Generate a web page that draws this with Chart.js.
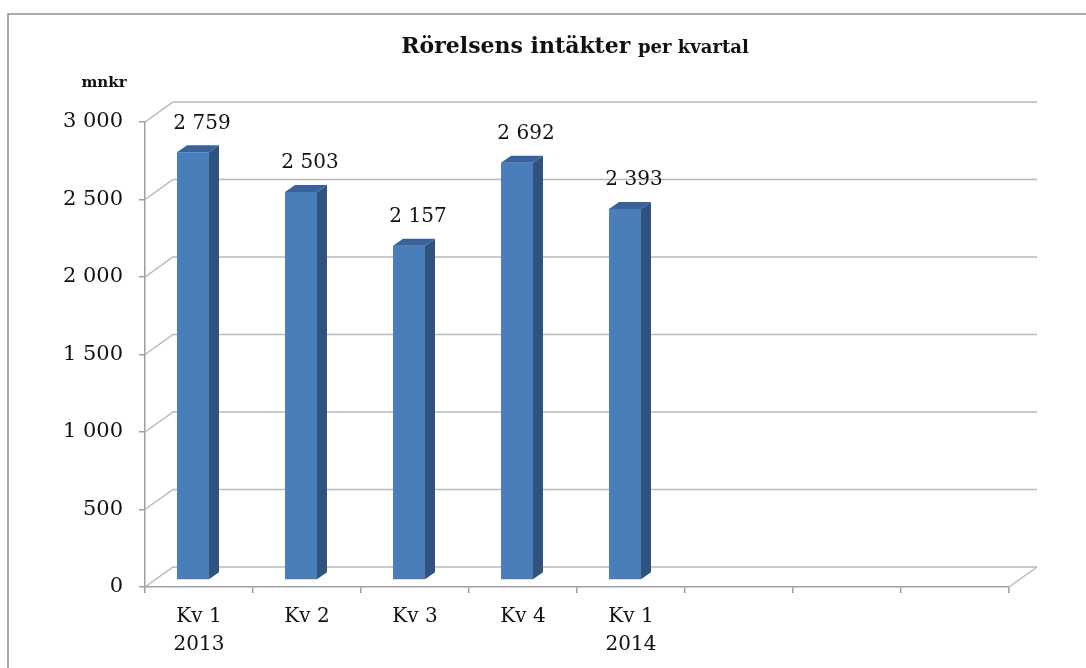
<!DOCTYPE html>
<html>
<head>
<meta charset="utf-8">
<script src="https://cdn.jsdelivr.net/npm/chart.js@4.4.1/dist/chart.umd.min.js"></script>
<style>
  html, body { margin: 0; padding: 0; background: #fff; }
  #wrap { width: 1086px; height: 668px; position: relative; }
</style>
</head>
<body>
<div id="wrap"><canvas id="chart"></canvas></div>
<script>
// data
const categories = [['Kv 1', '2013'], 'Kv 2', 'Kv 3', 'Kv 4', ['Kv 1', '2014'], '', '', ''];
const revenue = [2759, 2503, 2157, 2692, 2393, null, null, null];
const yTicks = [0, 500, 1000, 1500, 2000, 2500, 3000];

const titleMain = 'Rörelsens intäkter';
const titleSub = 'per kvartal';
const unitLabel = 'mnkr';

// 3D look
const WALL_DX = 28, WALL_DY = -20;   // back wall offset
const BAR_DX = -6, BAR_DY = -7;      // bars sit a bit behind the front plane
const SIDE_DX = 10, SIDE_DY = -7;    // bar depth
const FONT = '"DejaVu Serif", Georgia, serif';

function fmt(v) {
  return String(v).replace(/\B(?=(\d{3})+(?!\d))/g, ' ');
}

const threeD = {
  id: 'threeD',
  beforeDraw(chart) {
    const { ctx, chartArea: a, scales: { y } } = chart;
    ctx.save();
    // frame
    ctx.strokeStyle = '#8e8e8e';
    ctx.lineWidth = 1.5;
    ctx.beginPath();
    ctx.moveTo(8, 668);
    ctx.lineTo(8, 14);
    ctx.lineTo(1086, 14);
    ctx.stroke();

    // title (two sizes)
    ctx.fillStyle = '#111';
    ctx.textBaseline = 'alphabetic';
    ctx.font = 'bold 22px ' + FONT;
    const w1 = ctx.measureText(titleMain + ' ').width;
    ctx.font = 'bold 18px ' + FONT;
    const w2 = ctx.measureText(titleSub).width;
    const tx = 575 - (w1 + w2) / 2;
    ctx.font = 'bold 22px ' + FONT;
    ctx.fillText(titleMain + ' ', tx, 53);
    ctx.font = 'bold 18px ' + FONT;
    ctx.fillText(titleSub, tx + w1, 53);

    // unit
    ctx.font = 'bold 15px ' + FONT;
    ctx.textAlign = 'center';
    ctx.fillText(unitLabel, 104, 87);

    // back wall gridlines + diagonals
    ctx.strokeStyle = '#b8b8b8';
    ctx.lineWidth = 1.5;
    yTicks.forEach(v => {
      const py = y.getPixelForValue(v);
      ctx.beginPath();
      ctx.moveTo(a.left, py);
      ctx.lineTo(a.left + WALL_DX, py + WALL_DY);
      ctx.lineTo(a.right + WALL_DX, py + WALL_DY);
      ctx.stroke();
    });
    // floor right edge
    ctx.beginPath();
    ctx.moveTo(a.right, a.bottom);
    ctx.lineTo(a.right + WALL_DX, a.bottom + WALL_DY);
    ctx.stroke();
    ctx.restore();
  },
  beforeDatasetsDraw(chart) {
    chart.ctx.save();
    chart.ctx.translate(BAR_DX, BAR_DY);
  },
  afterDatasetsDraw(chart) {
    const { ctx } = chart;
    const meta = chart.getDatasetMeta(0);
    meta.data.forEach((bar, i) => {
      if (revenue[i] == null) return;
      const l = bar.x - bar.width / 2, r = bar.x + bar.width / 2;
      // side
      ctx.fillStyle = '#30527f';
      ctx.beginPath();
      ctx.moveTo(r, bar.y);
      ctx.lineTo(r + SIDE_DX, bar.y + SIDE_DY);
      ctx.lineTo(r + SIDE_DX, bar.base + SIDE_DY);
      ctx.lineTo(r, bar.base);
      ctx.closePath();
      ctx.fill();
      // top
      ctx.fillStyle = '#3a6198';
      ctx.beginPath();
      ctx.moveTo(l, bar.y);
      ctx.lineTo(l + SIDE_DX, bar.y + SIDE_DY);
      ctx.lineTo(r + SIDE_DX, bar.y + SIDE_DY);
      ctx.lineTo(r, bar.y);
      ctx.closePath();
      ctx.fill();
    });
    ctx.restore();

    // value labels
    ctx.save();
    ctx.fillStyle = '#111';
    ctx.font = '20px ' + FONT;
    ctx.textAlign = 'center';
    ctx.textBaseline = 'middle';
    const x = chart.scales.x;
    meta.data.forEach((bar, i) => {
      if (revenue[i] == null) return;
      ctx.fillText(fmt(revenue[i]), x.getPixelForValue(i) + 3, bar.y + BAR_DY + SIDE_DY - 22);
    });
    ctx.restore();
  }
};

new Chart(document.getElementById('chart'), {
  type: 'bar',
  data: {
    labels: categories,
    datasets: [{
      data: revenue,
      backgroundColor: '#4a7ebb',
      borderWidth: 0,
      barPercentage: 1,
      categoryPercentage: 0.296
    }]
  },
  options: {
    responsive: true,
    maintainAspectRatio: false,
    animation: false,
    layout: { padding: { top: 122, right: 77, left: 0, bottom: 0 } },
    plugins: { legend: { display: false }, tooltip: { enabled: false }, title: { display: false } },
    scales: {
      x: {
        grid: { offset: true, drawOnChartArea: false, tickLength: 6, color: '#a0a0a0', lineWidth: 1.5 },
        border: { display: true, color: '#a0a0a0', width: 1.5 },
        ticks: {
          padding: 10,
          color: '#111',
          maxRotation: 0,
          autoSkip: false,
          font: { family: FONT, size: 20, lineHeight: 1.4 }
        },
        afterFit(scale) { scale.height = 81; }
      },
      y: {
        min: 0,
        max: 3000,
        afterBuildTicks(scale) { scale.ticks = yTicks.map(v => ({ value: v })); },
        grid: { drawOnChartArea: false, tickLength: 6, color: '#a0a0a0', lineWidth: 1.5 },
        border: { display: true, color: '#a0a0a0', width: 1.5 },
        ticks: {
          padding: 16,
          color: '#111',
          font: { family: FONT, size: 21 },
          callback: v => fmt(v)
        },
        afterFit(scale) { scale.width = 145; }
      }
    }
  },
  plugins: [threeD]
});
</script>
</body>
</html>
